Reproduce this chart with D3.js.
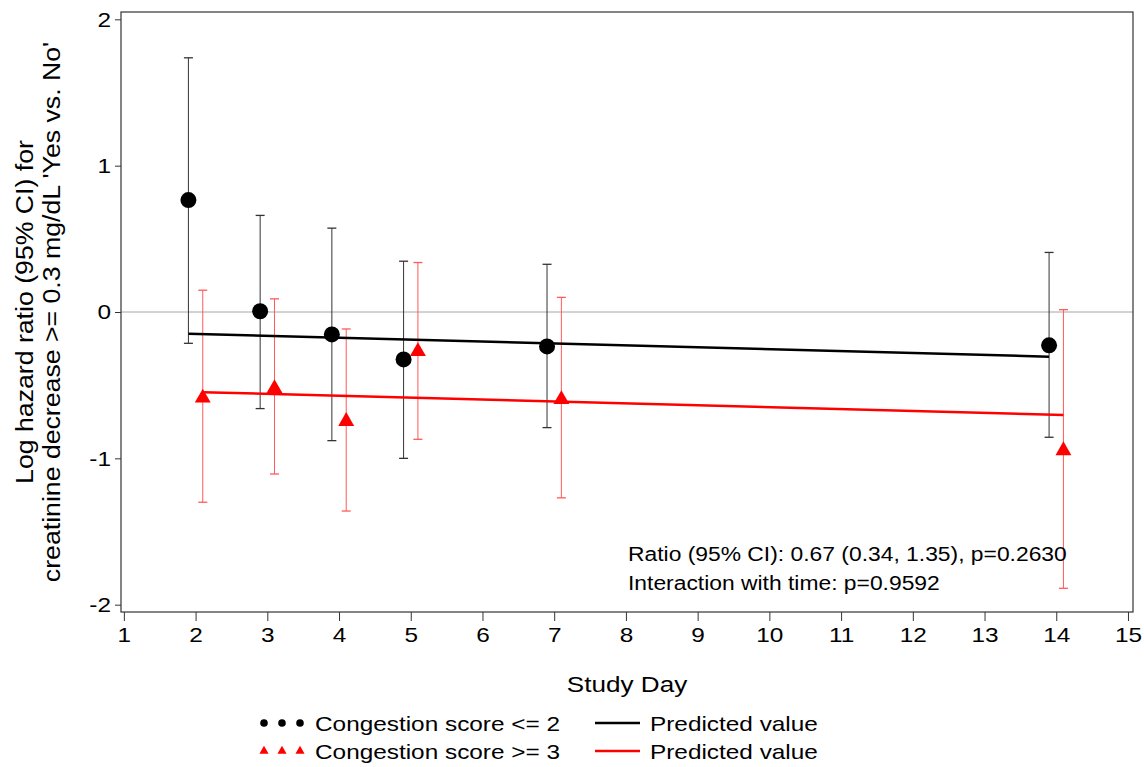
<!DOCTYPE html>
<html>
<head>
<meta charset="utf-8">
<style>
    body { margin: 0; background: #fff; }
    text { font-family: "Liberation Sans", Arial, sans-serif; fill: #000; }
</style>
</head>
<body>
<svg id="chart" width="1144" height="767"></svg>

<script src="https://cdn.jsdelivr.net/npm/d3@7"></script>
<script>
    // congestion score <= 2
    let daysLow = [1.9, 2.9, 3.9, 4.9, 6.9, 13.9]
    let estLow = [0.765, 0.005, -0.153, -0.324, -0.235, -0.228]
    let lclLow = [-0.214, -0.66, -0.879, -1.0, -0.79, -0.856]
    let uclLow = [1.737, 0.66, 0.573, 0.347, 0.326, 0.407]

    // congestion score >= 3
    let daysHigh = [2.1, 3.1, 4.1, 5.1, 7.1, 14.1]
    let estHigh = [-0.58, -0.515, -0.74, -0.262, -0.59, -0.94]
    let lclHigh = [-1.30, -1.107, -1.36, -0.87, -1.27, -1.888]
    let uclHigh = [0.149, 0.09, -0.116, 0.338, 0.10, 0.016]

    // predicted lines (end points)
    let predDaysLow = [1.9, 13.9]
    let predLow = [-0.148, -0.305]
    let predDaysHigh = [2.1, 14.1]
    let predHigh = [-0.548, -0.703]

    let xTicks = d3.range(1, 16)
    let yTicks = [-2, -1, 0, 1, 2]

    let svg = d3.select("#chart")

    let pLeft = 121, pRight = 1133, pTop = 12, pBottom = 612
    let stretch = 1.16   // the original font is a bit wider than Arial

    let x = d3.scaleLinear().domain([0.96, 15.07]).range([pLeft, pRight])
    let y = d3.scaleLinear().domain([-2.05, 2.05]).range([pBottom, pTop])

    // plain text with the wide look
    function label(px, py, size, str, anchor) {
        return svg.append("text")
            .attr("transform", `translate(${px},${py}) scale(${stretch},1)`)
            .attr("text-anchor", anchor || "start")
            .attr("font-size", size)
            .text(str)
    }

    // zero reference line
    svg.append("line")
        .attr("x1", pLeft).attr("x2", pRight)
        .attr("y1", y(0)).attr("y2", y(0))
        .attr("stroke", "#a6a6a6").attr("stroke-width", 1)

    // frame
    svg.append("rect")
        .attr("x", pLeft).attr("y", pTop)
        .attr("width", pRight - pLeft).attr("height", pBottom - pTop)
        .attr("fill", "none").attr("stroke", "#333").attr("stroke-width", 1.2)

    // axes
    let xAxis = svg.append("g")
        .attr("transform", `translate(0,${pBottom})`)
        .call(d3.axisBottom(x).tickValues(xTicks).tickSize(9).tickPadding(6).tickFormat(d3.format("d")))
    xAxis.select(".domain").remove()
    xAxis.selectAll("line").attr("stroke", "#333")
    xAxis.selectAll("text")
        .attr("font-size", 21).attr("font-family", "Liberation Sans, Arial, sans-serif").attr("fill", "#000")
        .attr("transform", `scale(${stretch},1)`)

    let yAxis = svg.append("g")
        .attr("transform", `translate(${pLeft},0)`)
        .call(d3.axisLeft(y).tickValues(yTicks).tickSize(6).tickPadding(4).tickFormat(d => String(d)))
    yAxis.select(".domain").remove()
    yAxis.selectAll("line").attr("stroke", "#333")
    yAxis.selectAll("text")
        .attr("font-size", 21).attr("font-family", "Liberation Sans, Arial, sans-serif").attr("fill", "#000")
        .attr("x", -10 / stretch)
        .attr("transform", `scale(${stretch},1)`)

    // axis titles
    label(627, 692, 22.5, "Study Day", "middle")

    let yTitle = svg.append("text")
        .attr("transform", `translate(0,${y(0)}) rotate(-90) scale(${stretch},1)`)
        .attr("text-anchor", "middle").attr("font-size", 23)
    yTitle.append("tspan").attr("x", 0).attr("y", 33).text("Log hazard ratio (95% CI) for")
    yTitle.append("tspan").attr("x", 0).attr("y", 60).text("creatinine decrease >= 0.3 mg/dL 'Yes vs. No'")

    // error bars
    function errorBars(days, lcl, ucl, color) {
        let g = svg.append("g")
        g.selectAll(".bar").data(days).enter().append("line")
            .attr("x1", d => x(d)).attr("x2", d => x(d))
            .attr("y1", (d, i) => y(lcl[i])).attr("y2", (d, i) => y(ucl[i]))
            .attr("stroke", color).attr("stroke-width", 1)
        g.selectAll(".capL").data(days).enter().append("line")
            .attr("x1", d => x(d) - 4.5).attr("x2", d => x(d) + 4.5)
            .attr("y1", (d, i) => y(lcl[i])).attr("y2", (d, i) => y(lcl[i]))
            .attr("stroke", color).attr("stroke-width", 1.3)
        g.selectAll(".capU").data(days).enter().append("line")
            .attr("x1", d => x(d) - 4.5).attr("x2", d => x(d) + 4.5)
            .attr("y1", (d, i) => y(ucl[i])).attr("y2", (d, i) => y(ucl[i]))
            .attr("stroke", color).attr("stroke-width", 1.3)
    }
    errorBars(daysLow, lclLow, uclLow, "#333")
    errorBars(daysHigh, lclHigh, uclHigh, "#ff5a5a")

    // predicted lines
    let line = d3.line().x(d => x(d[0])).y(d => y(d[1]))
    svg.append("path")
        .datum(predDaysLow.map((d, i) => [d, predLow[i]]))
        .attr("d", line).attr("fill", "none").attr("stroke", "#000").attr("stroke-width", 2.5)
    svg.append("path")
        .datum(predDaysHigh.map((d, i) => [d, predHigh[i]]))
        .attr("d", line).attr("fill", "none").attr("stroke", "#ff0000").attr("stroke-width", 2.5)

    // markers
    let tri = d3.symbol().type(d3.symbolTriangle).size(110)
    svg.selectAll(".dot").data(daysLow).enter().append("circle")
        .attr("cx", d => x(d)).attr("cy", (d, i) => y(estLow[i]))
        .attr("r", 8).attr("fill", "#000")
    svg.selectAll(".tri").data(daysHigh).enter().append("path")
        .attr("d", tri)
        .attr("transform", (d, i) => `translate(${x(d)},${y(estHigh[i]) + 1})`)
        .attr("fill", "#ff0000")

    // annotation
    label(628, 561, 19.7, "Ratio (95% CI): 0.67 (0.34, 1.35), p=0.2630")
    label(628, 590, 19.7, "Interaction with time: p=0.9592")

    // legend
    let legend = svg.append("g")
    let dotXs = [264, 282, 300]
    legend.selectAll(".ld").data(dotXs).enter().append("circle")
        .attr("cx", d => d).attr("cy", 723).attr("r", 3.8).attr("fill", "#000")
    let smallTri = d3.symbol().type(d3.symbolTriangle).size(36)
    legend.selectAll(".lt").data(dotXs).enter().append("path")
        .attr("d", smallTri)
        .attr("transform", d => `translate(${d},751)`)
        .attr("fill", "#ff0000")
    legend.append("line").attr("x1", 595).attr("x2", 640).attr("y1", 723).attr("y2", 723)
        .attr("stroke", "#000").attr("stroke-width", 2.5)
    legend.append("line").attr("x1", 595).attr("x2", 640).attr("y1", 751).attr("y2", 751)
        .attr("stroke", "#ff0000").attr("stroke-width", 2.5)
    label(315, 731, 21, "Congestion score <= 2")
    label(315, 759, 21, "Congestion score >= 3")
    label(650, 731, 21, "Predicted value")
    label(650, 759, 21, "Predicted value")
</script>
</body>
</html>
